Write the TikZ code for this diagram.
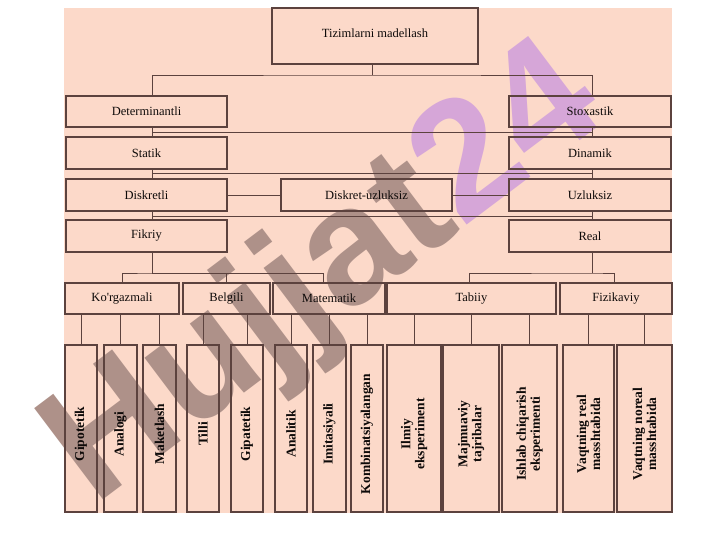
\documentclass[tikz,border=0pt]{standalone}
\usepackage{fontspec}
\setmainfont{Liberation Serif}
\newfontfamily\wmfont{Liberation Sans}
\usetikzlibrary{calc}
\definecolor{bgpink}{RGB}{252,217,201}
\definecolor{lncol}{RGB}{92,66,62}
\definecolor{wmgray}{RGB}{174,145,137}
\definecolor{wmpurple}{RGB}{214,166,216}
\tikzset{
  bx/.style={draw=lncol, line width=1.1pt, inner sep=0pt, rectangle},
  lbl/.style={font=\fontsize{12.5}{14}\selectfont, text=black!85!lncol, inner sep=0pt},
  vlbl/.style={font=\fontsize{13.5}{14}\selectfont\bfseries, text=black!85!lncol, rotate=90, align=center, inner sep=0pt},
  conn/.style={draw=lncol, line width=0.9pt},
}
\newcommand\bx[7][0]{%
  \node[bx, minimum width={(#5-#3)*1pt}, minimum height={(#6-#4)*1pt}] (#2) at ({(#3+#5)/2},{(#4+#6)/2}) {};
  \node[lbl] (t-#2) at ([yshift=#1pt]#2.center) {#7};}
\newcommand\vbx[5]{%
  \node[bx, minimum width={(#3-#2)*1pt}, minimum height={167pt}] (#1) at ({(#2+#3)/2},428.5) {};
  \node[vlbl] (t-#1) at ([yshift=-5.5pt]#1.center) {#5};}
\begin{document}
\begin{tikzpicture}[x=1pt,y=-1pt]
\useasboundingbox (0,0) rectangle (720,540);
\fill[bgpink] (64,8) rectangle (672,513);
% watermark
\node[rotate=37, anchor=base, inner sep=0pt, font=\wmfont\bfseries\fontsize{166}{166}\selectfont] (wm) at (352,312) {\textcolor{wmgray}{Hujjat}\textcolor{wmpurple}{24}};
% boxes
\bx[3]{top}{272}{8}{478}{64}{Tizimlarni madellash}
\bx{det}{66}{96}{227}{127}{Determinantli}
\bx{sto}{509}{96}{671}{127}{Stoxastik}
\bx{stat}{66}{137}{227}{169}{Statik}
\bx{din}{509}{137}{671}{169}{Dinamik}
\bx{disk}{66}{179}{227}{211}{Diskretli}
\bx{du}{281}{179}{452}{211}{Diskret-uzluksiz}
\bx{uzl}{509}{179}{671}{211}{Uzluksiz}
\bx{fik}{66}{220}{227}{252}{Fikriy}
\bx{real}{509}{220}{671}{252}{Real}
\bx{kor}{65}{283}{179}{314}{Ko\textquotesingle rgazmali}
\bx{bel}{183}{283}{270}{314}{Belgili}
\bx{mat}{273}{283}{385}{314}{Matematik}
\bx{tab}{387}{283}{556}{314}{Tabiiy}
\bx{fiz}{560}{283}{672}{314}{Fizikaviy}
\vbx{gip}{65}{97}{}{Gipotetik}
\vbx{ana}{104}{137}{}{Analogi}
\vbx{mak}{143}{176}{}{Maketlash}
\vbx{til}{187}{219}{}{Tilli}
\vbx{gipa}{231}{263}{}{Gipatetik}
\vbx{anal}{275}{307}{}{Analitik}
\vbx{imi}{313}{346}{}{Imitasiyali}
\vbx{komb}{351}{383}{}{Kombinatsiyalangan}
\vbx{ilm}{387}{441}{}{Ilmiy\\eksperiment}
\vbx{maj}{443}{499}{}{Majmuaviy\\tajribalar}
\vbx{ish}{502}{557}{}{Ishlab chiqarish\\eksperimenti}
\vbx{vr}{563}{614}{}{Vaqtning real\\masshtabida}
\vbx{vn}{617}{672}{}{Vaqtning noreal\\masshtabida}
% bus coordinates
\coordinate (L) at (152,0);
\coordinate (R) at (592,0);
\coordinate (b1) at (372,75);
\coordinate (b2) at (0,132);
\coordinate (b3) at (0,173);
\coordinate (b4) at (0,216);
\coordinate (gL) at (152,273);
\coordinate (gR) at (592,273);
% top
\draw[conn] (top.south -| b1) -- (b1);
\draw[conn] (det.north -| L) |- (b1) -| (sto.north -| R);
% columns
\draw[conn] (det.south -| L) -- (stat.north -| L);
\draw[conn] (stat.south -| L) -- (disk.north -| L);
\draw[conn] (disk.south -| L) -- (fik.north -| L);
\draw[conn] (sto.south -| R) -- (din.north -| R);
\draw[conn] (din.south -| R) -- (uzl.north -| R);
\draw[conn] (uzl.south -| R) -- (real.north -| R);
\draw[conn] (L |- b2) -- (R |- b2);
\draw[conn] (L |- b3) -- (R |- b3);
\draw[conn] (L |- b4) -- (R |- b4);
\draw[conn] (disk.east) -- (du.west);
\draw[conn] (du.east) -- (uzl.west);
% level 6 groups
\draw[conn] (fik.south -| gL) -- (gL);
\draw[conn] (kor.north) |- (gL) -| (bel.north);
\draw[conn] (gL) -| ([xshift=-6pt]mat.north);
\draw[conn] (real.south -| gR) -- (gR);
\draw[conn] ([xshift=-2pt]tab.north) |- (gR) -| ([xshift=-2pt]fiz.north);
% bottom children
\foreach \c/\p in {gip/kor,ana/kor,mak/kor,til/bel,gipa/bel,anal/mat,imi/mat,komb/mat,ilm/tab,maj/tab,ish/tab,vr/fiz,vn/fiz}
  \draw[conn] (\c.north) -- (\c.north |- \p.south);
\end{tikzpicture}
\end{document}
